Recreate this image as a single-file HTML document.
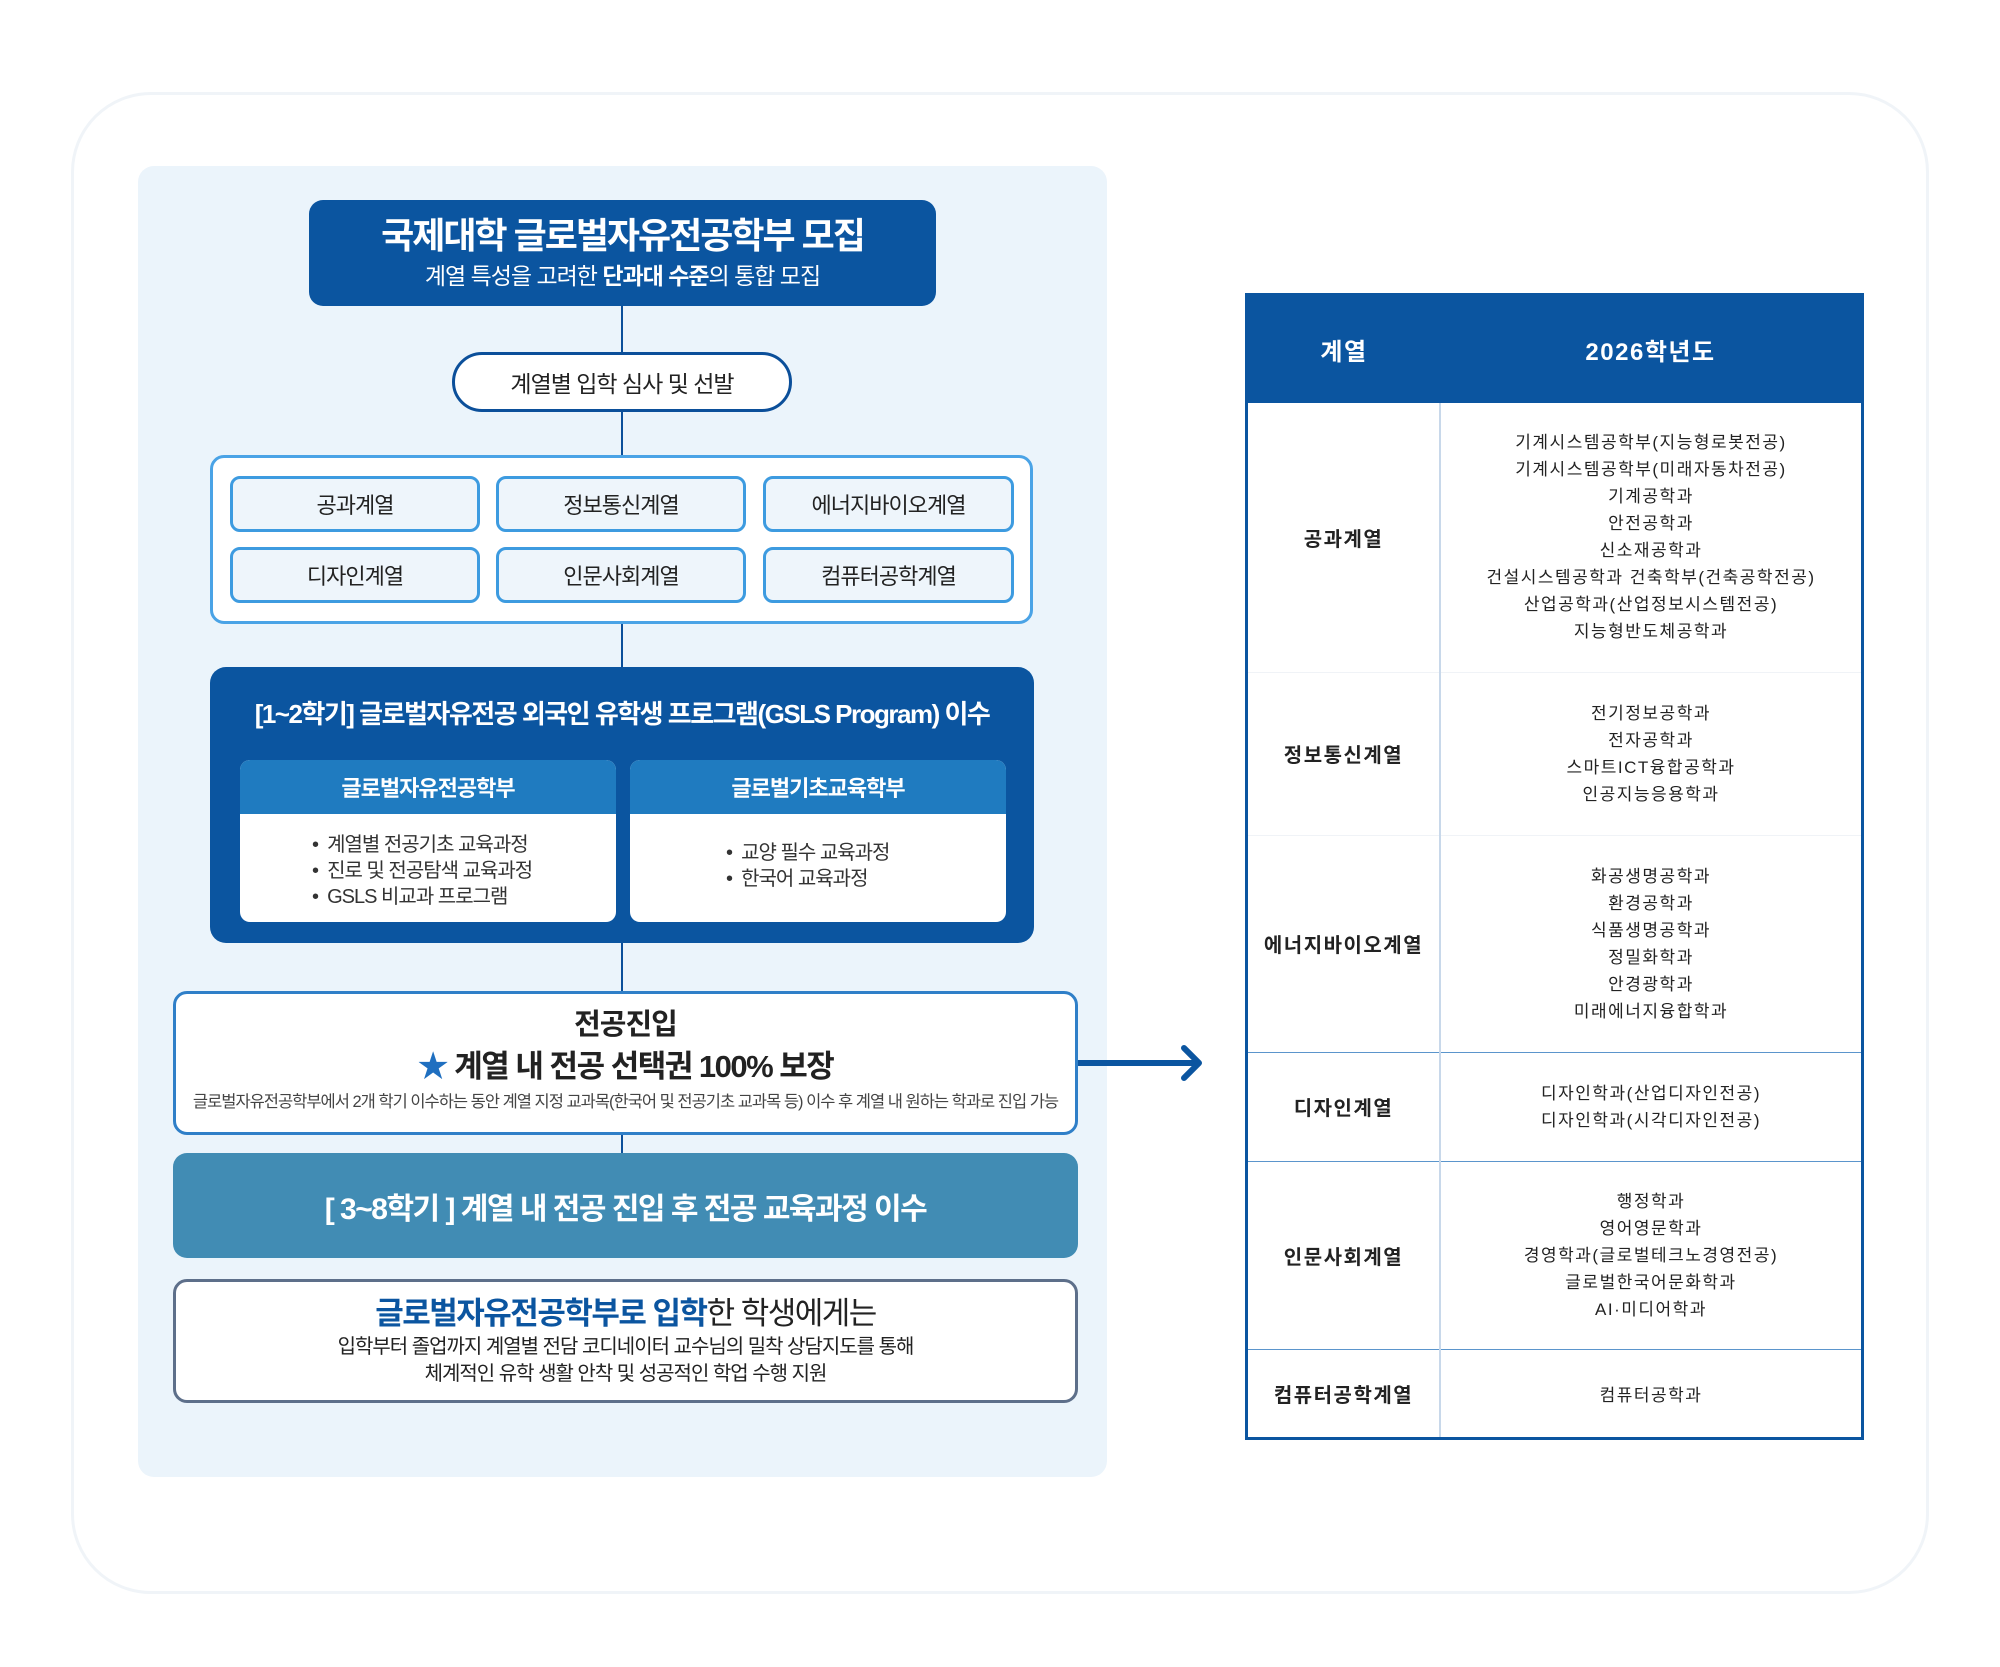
<!DOCTYPE html>
<html><head><meta charset="utf-8"><style>
*{margin:0;padding:0;box-sizing:border-box}
body{width:2000px;height:1667px;background:#fff;position:relative;font-family:"Liberation Sans","Noto Sans CJK KR",sans-serif;overflow:hidden}
.a{position:absolute}
.c{display:flex;align-items:center;justify-content:center;text-align:center}
.sb{background:#eef5fb;border:3px solid #3d9be0;border-radius:10px;font-size:22px;color:#222;letter-spacing:-1px}
.vl{position:absolute;left:621px;width:2px;background:#0b4f9a}
table{border-collapse:collapse}
</style></head><body>
<div class="a" style="left:71px;top:92px;width:1858px;height:1502px;border:3px solid #f0f4f8;border-radius:80px"></div>
<div class="a" style="left:138px;top:166px;width:969px;height:1311px;background:#ebf4fb;border-radius:16px"></div>

<div class="vl" style="top:200px;height:800px"></div>
<div class="vl" style="top:1130px;height:30px"></div>

<div class="a c" style="left:309px;top:200px;width:627px;height:106px;background:#0b55a0;border-radius:14px;flex-direction:column;color:#fff">
<div style="font-size:36px;font-weight:bold;letter-spacing:-2px;line-height:46px">국제대학 글로벌자유전공학부 모집</div>
<div style="font-size:23px;letter-spacing:-1px;line-height:34px">계열 특성을 고려한 <b>단과대 수준</b>의 통합 모집</div></div>

<div class="a c" style="left:452px;top:352px;width:340px;height:60px;background:#fff;border:3px solid #0b4f9a;border-radius:30px;font-size:23px;letter-spacing:-1px;color:#222">계열별 입학 심사 및 선발</div>

<div class="a" style="left:210px;top:455px;width:823px;height:169px;background:#fff;border:3px solid #4aa3e6;border-radius:14px"></div>
<div class="a c sb" style="left:230px;top:476px;width:250px;height:56px">공과계열</div>
<div class="a c sb" style="left:496px;top:476px;width:250px;height:56px">정보통신계열</div>
<div class="a c sb" style="left:763px;top:476px;width:251px;height:56px">에너지바이오계열</div>
<div class="a c sb" style="left:230px;top:547px;width:250px;height:56px">디자인계열</div>
<div class="a c sb" style="left:496px;top:547px;width:250px;height:56px">인문사회계열</div>
<div class="a c sb" style="left:763px;top:547px;width:251px;height:56px">컴퓨터공학계열</div>

<div class="a" style="left:210px;top:667px;width:824px;height:276px;background:#0b55a0;border-radius:16px"></div>
<div class="a c" style="left:210px;top:690px;width:824px;height:44px;color:#fff;font-size:26px;font-weight:bold;letter-spacing:-1.5px">[1~2학기] 글로벌자유전공 외국인 유학생 프로그램(GSLS Program) 이수</div>
<div class="a" style="left:240px;top:760px;width:376px;height:162px;background:#fff;border-radius:10px;overflow:hidden">
<div class="c" style="height:54px;background:#1f7bc0;color:#fff;font-size:22px;font-weight:bold;letter-spacing:-1px">글로벌자유전공학부</div>
<div style="padding:18px 0 0 72px;font-size:20px;line-height:26px;color:#333;letter-spacing:-1px">•&nbsp;&nbsp;계열별 전공기초 교육과정<br>•&nbsp;&nbsp;진로 및 전공탐색 교육과정<br>•&nbsp;&nbsp;GSLS 비교과 프로그램</div></div>
<div class="a" style="left:630px;top:760px;width:376px;height:162px;background:#fff;border-radius:10px;overflow:hidden">
<div class="c" style="height:54px;background:#1f7bc0;color:#fff;font-size:22px;font-weight:bold;letter-spacing:-1px">글로벌기초교육학부</div>
<div style="padding:26px 0 0 96px;font-size:20px;line-height:26px;color:#333;letter-spacing:-1px">•&nbsp;&nbsp;교양 필수 교육과정<br>•&nbsp;&nbsp;한국어 교육과정</div></div>

<div class="a" style="left:173px;top:991px;width:905px;height:144px;background:#fff;border:3px solid #2f7fc8;border-radius:14px;text-align:center;color:#222">
<div style="font-size:29px;font-weight:bold;margin-top:12px;line-height:38px;letter-spacing:-1px">전공진입</div>
<div style="font-size:31px;font-weight:bold;line-height:46px;letter-spacing:-1.5px"><span style="color:#1f6fc0">★</span> 계열 내 전공 선택권 100% 보장</div>
<div style="font-size:16.5px;line-height:24px;letter-spacing:-1px;color:#444;white-space:nowrap">글로벌자유전공학부에서 2개 학기 이수하는 동안 계열 지정 교과목(한국어 및 전공기초 교과목 등) 이수 후 계열 내 원하는 학과로 진입 가능</div></div>

<div class="a c" style="left:173px;top:1153px;width:905px;height:105px;background:#418cb4;border-radius:14px;color:#fff;font-size:30px;font-weight:bold;letter-spacing:-1.5px">[ 3~8학기 ] 계열 내 전공 진입 후 전공 교육과정 이수</div>

<div class="a" style="left:173px;top:1279px;width:905px;height:124px;background:#fff;border:3px solid #5d6f8a;border-radius:14px;text-align:center;color:#222">
<div style="font-size:31px;line-height:40px;margin-top:12px;letter-spacing:-1.5px"><span style="color:#0b55a0;font-weight:bold">글로벌자유전공학부로 입학</span>한 학생에게는</div>
<div style="font-size:20px;line-height:27px;letter-spacing:-1px">입학부터 졸업까지 계열별 전담 코디네이터 교수님의 밀착 상담지도를 통해<br>체계적인 유학 생활 안착 및 성공적인 학업 수행 지원</div></div>

<svg class="a" style="left:1078px;top:1040px" width="130" height="46"><line x1="0" y1="23" x2="118" y2="23" stroke="#0b55a0" stroke-width="6"/><polyline points="106,8 121,23 106,38" fill="none" stroke="#0b55a0" stroke-width="6" stroke-linecap="round" stroke-linejoin="round"/></svg>

<div class="a" style="left:1245px;top:293px;width:619px;height:1147px;border:3px solid #0b55a0;background:#fff">
<table style="width:613px;font-size:17px;color:#222;letter-spacing:1.5px;text-align:center">
<tr style="height:107px;background:#0b55a0;color:#fff;font-size:24px;font-weight:bold"><td style="width:192px">계열</td><td>2026학년도</td></tr>
<tr style="height:269px"><td style="font-weight:bold;font-size:20px;border-right:2px solid #c8d8ea">공과계열</td><td style="line-height:27px">기계시스템공학부(지능형로봇전공)<br>기계시스템공학부(미래자동차전공)<br>기계공학과<br>안전공학과<br>신소재공학과<br>건설시스템공학과 건축학부(건축공학전공)<br>산업공학과(산업정보시스템전공)<br>지능형반도체공학과</td></tr>
<tr style="height:163px;border-top:1px solid #f0f3f7"><td style="font-weight:bold;font-size:20px;border-right:2px solid #c8d8ea">정보통신계열</td><td style="line-height:27px">전기정보공학과<br>전자공학과<br>스마트ICT융합공학과<br>인공지능응용학과</td></tr>
<tr style="height:217px;border-top:1px solid #f0f3f7"><td style="font-weight:bold;font-size:20px;border-right:2px solid #c8d8ea">에너지바이오계열</td><td style="line-height:27px">화공생명공학과<br>환경공학과<br>식품생명공학과<br>정밀화학과<br>안경광학과<br>미래에너지융합학과</td></tr>
<tr style="height:109px;border-top:1.5px solid #5b95cc"><td style="font-weight:bold;font-size:20px;border-right:2px solid #c8d8ea">디자인계열</td><td style="line-height:27px">디자인학과(산업디자인전공)<br>디자인학과(시각디자인전공)</td></tr>
<tr style="height:188px;border-top:1.5px solid #5b95cc"><td style="font-weight:bold;font-size:20px;border-right:2px solid #c8d8ea">인문사회계열</td><td style="line-height:27px">행정학과<br>영어영문학과<br>경영학과(글로벌테크노경영전공)<br>글로벌한국어문화학과<br>AI·미디어학과</td></tr>
<tr style="height:88px;border-top:1.5px solid #5b95cc"><td style="font-weight:bold;font-size:20px;border-right:2px solid #c8d8ea">컴퓨터공학계열</td><td>컴퓨터공학과</td></tr>
</table></div>
</body></html>
